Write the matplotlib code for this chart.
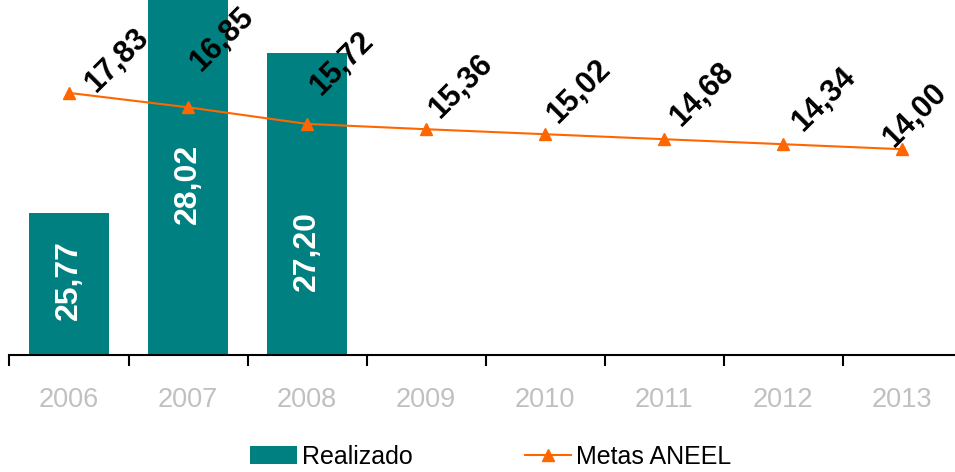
import matplotlib.pyplot as plt
import numpy as np

plt.rcParams['font.family'] = ['Liberation Sans', 'DejaVu Sans']

# dados
anos = ['2006', '2007', '2008', '2009', '2010', '2011', '2012', '2013']
realizado = [25.77, 28.02, 27.20]
metas = [17.83, 16.85, 15.72, 15.36, 15.02, 14.68, 14.34, 14.00]

teal = '#008080'
laranja = '#FF6600'

# posicoes dos rotulos (ajuste manual, em pixels)
pos_rot_barra = [0.211, 0.482, 0.293]   # fracao da altura do eixo
desloc_rot_meta = [(27, -1), (13, 35), (14, 27), (14, 10), (13, 10), (17, 12), (20, 12), (-8, 1)]

fig = plt.figure(figsize=(9.55, 4.72), dpi=100)
ax = fig.add_axes([9.5 / 955, 117 / 472, 952 / 955, 355 / 472])
ax2 = ax.twinx()

x = np.arange(len(anos))

# barras - realizado
barras = ax.bar(x[:len(realizado)], realizado, width=0.67, color=teal, label='Realizado')
ax.set_ylim(24.5, 27.67)
for xi, v, fy in zip(x, realizado, pos_rot_barra):
    ax.text(xi, fy, f'{v:.2f}'.replace('.', ','), transform=ax.get_xaxis_transform(),
            rotation=90, ha='center', va='center', color='white',
            fontsize=23, fontweight='bold')

# linha - metas
linha, = ax2.plot(x, metas, color=laranja, lw=1.5, marker='^', markersize=9,
                  label='Metas ANEEL')
ax2.set_ylim(0, 24.15)
for xi, v, (dx, dy) in zip(x, metas, desloc_rot_meta):
    ax2.annotate(f'{v:.2f}'.replace('.', ','), (xi, v), xytext=(dx, dy),
                 textcoords='offset pixels', rotation=45, rotation_mode='anchor',
                 ha='left', va='baseline', fontsize=22, fontweight='bold', color='black')

ax.set_xlim(-0.5, len(anos) - 0.5)
ax.set_xticks(x)
ax.set_xticklabels(anos, color='#C0C0C0', fontsize=19.5)
ax.set_xticks(np.arange(-0.5, len(anos) - 0.4, 1), minor=True)
ax.tick_params(axis='x', which='major', length=0, pad=23)
ax.tick_params(axis='x', which='minor', length=8, width=1.5, color='black', direction='out')
ax.set_yticks([])
ax2.set_yticks([])
for a in (ax, ax2):
    for s in ('top', 'left', 'right'):
        a.spines[s].set_visible(False)
ax.spines['bottom'].set_linewidth(1.5)
ax2.spines['bottom'].set_visible(False)

fig.legend([barras, linha], ['Realizado', 'Metas ANEEL'], loc='center',
           bbox_to_anchor=(0.514, 0.032), ncol=2, frameon=False, fontsize=18,
           handlelength=1.85, handletextpad=0.2, columnspacing=4.5)

fig.savefig('out.png', dpi=100)
